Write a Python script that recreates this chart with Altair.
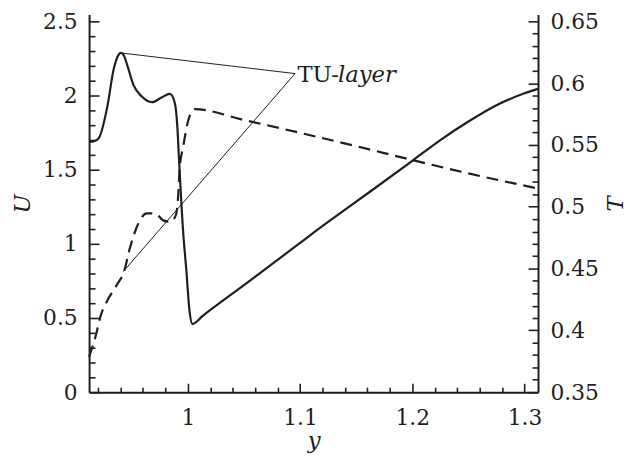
import altair as alt
import pandas as pd

# ---------------- data ----------------
# U (solid, left axis)
u_x = [0.912, 0.916, 0.9208, 0.928, 0.934, 0.937, 0.9405, 0.943, 0.946, 0.9516,
       0.959, 0.968, 0.9766, 0.984, 0.9884, 0.9907, 0.9922, 0.9957, 0.9986,
       1.0016, 1.004, 1.0133, 1.05, 1.1, 1.1129, 1.15, 1.2, 1.225, 1.25,
       1.275, 1.3, 1.312]
u_val = [1.687, 1.69, 1.715, 1.915, 2.18, 2.255, 2.287, 2.27, 2.205, 2.07,
         1.993, 1.955, 1.987, 2.011, 1.949, 1.782, 1.56, 1.093, 0.827,
         0.54, 0.46, 0.515, 0.722, 1.006, 1.08, 1.284, 1.56, 1.70, 1.825,
         1.935, 2.015, 2.045]

# T (dashed, right axis)
t_x = [0.912, 0.918, 0.9223, 0.9281, 0.937, 0.9428, 0.9487, 0.956, 0.9634,
       0.9708, 0.9781, 0.9845, 0.9893, 0.9913, 0.9928, 0.9957, 1.0001, 1.004,
       1.006, 1.05, 1.1, 1.15, 1.2, 1.25, 1.312]
t_val = [0.3786, 0.3958, 0.4118, 0.4238, 0.4372, 0.4466, 0.4678, 0.4866, 0.4946,
         0.4946, 0.489, 0.4878, 0.4932, 0.5078, 0.5318, 0.548, 0.569, 0.5778,
         0.579, 0.5702, 0.5598, 0.549, 0.5378, 0.527, 0.5148]

# annotation "TU-layer": leader lines (in U units) and label anchor
ann_x0 = [1.0955, 1.0955]
ann_y0 = [2.148, 2.148]
ann_x1 = [0.9405, 0.9424]
ann_y1 = [2.287, 0.813]
ann_label_x = [1.0976]
ann_label_y = [2.093]
ann_text_roman = ["TU-"]
ann_text_italic = ["layer"]

# axes
x_domain = [0.912, 1.312]
u_domain = [0, 2.5467]
t_domain = [0.35, 0.6556]
x_major = [1.0, 1.1, 1.2, 1.3]
x_minor = [0.92, 0.94, 0.96, 0.98, 1.02, 1.04, 1.06, 1.08, 1.12, 1.14, 1.16,
           1.18, 1.22, 1.24, 1.26, 1.28]
u_major = [0, 0.5, 1, 1.5, 2, 2.5]
u_minor = [0.1, 0.2, 0.3, 0.4, 0.6, 0.7, 0.8, 0.9, 1.1, 1.2, 1.3, 1.4, 1.6,
           1.7, 1.8, 1.9, 2.1, 2.2, 2.3, 2.4]
t_major = [0.35, 0.4, 0.45, 0.5, 0.55, 0.6, 0.65]
t_minor = [0.36, 0.37, 0.38, 0.39, 0.41, 0.42, 0.43, 0.44, 0.46, 0.47, 0.48,
           0.49, 0.51, 0.52, 0.53, 0.54, 0.56, 0.57, 0.58, 0.59, 0.61, 0.62,
           0.63, 0.64]

# ---------------- styling ----------------
W, H = 454, 382
INK = "#1e1e1e"
FONT = "DejaVu Serif"
FS = 22
FS_ANN = 23

dfU = pd.DataFrame({"x": u_x, "U": u_val})
dfT = pd.DataFrame({"x": t_x, "T": t_val})
dfA = pd.DataFrame({"x": ann_x0, "y": ann_y0, "x2": ann_x1, "y2": ann_y1})
dfL = pd.DataFrame({"x": ann_label_x, "y": ann_label_y,
                    "r": ann_text_roman, "i": ann_text_italic})

xs = alt.Scale(domain=x_domain, nice=False, zero=False)
us = alt.Scale(domain=u_domain, nice=False, zero=False)
ts = alt.Scale(domain=t_domain, nice=False, zero=False)


def tick_axis(values, size, orient, offset):
    return alt.Axis(values=values, orient=orient, offset=offset, tickSize=size,
                    tickWidth=1.6, tickColor=INK, ticks=True, labels=False,
                    domain=False, grid=False, title=None)


def label_axis(values, orient, title, pad, **kw):
    return alt.Axis(values=values, orient=orient, ticks=False, tickSize=0,
                    labels=True, labelPadding=pad, labelFont=FONT,
                    labelFontSize=FS, labelColor=INK, format="~g",
                    domain=True, domainColor=INK, domainWidth=2, grid=False,
                    title=title, titleFont=FONT, titleFontSize=FS_ANN,
                    titleFontStyle="italic", titleFontWeight="normal",
                    titleColor=INK, **kw)


# ---------- U group (left scale) ----------
u_line = alt.Chart(dfU).mark_line(
    color=INK, strokeWidth=2.2, interpolate="monotone", strokeJoin="round"
).encode(
    x=alt.X("x:Q", scale=xs,
            axis=label_axis(x_major, "bottom", "y", 16, titleBaseline="alphabetic",
                            titleX=W / 2, titleY=56, titleAngle=0)),
    y=alt.Y("U:Q", scale=us,
            axis=label_axis(u_major, "left", "U", 12, titleBaseline="alphabetic",
                            titleX=-60, titleY=H / 2, titleAngle=270)),
)

u_major_ticks = alt.Chart(dfU).mark_line(strokeOpacity=0).encode(
    x=alt.X("x:Q", scale=xs, axis=tick_axis(x_major, 9, "top", -H)),
    y=alt.Y("U:Q", scale=us, axis=tick_axis(u_major, 10, "right", -W)),
)
u_minor_ticks = alt.Chart(dfU).mark_line(strokeOpacity=0).encode(
    x=alt.X("x:Q", scale=xs, axis=tick_axis(x_minor, 5, "top", -H)),
    y=alt.Y("U:Q", scale=us, axis=tick_axis(u_minor, 6, "right", -W)),
)

ann_rules = alt.Chart(dfA).mark_rule(color=INK, strokeWidth=1).encode(
    x=alt.X("x:Q", scale=xs, axis=None),
    y=alt.Y("y:Q", scale=us, axis=None),
    x2="x2:Q",
    y2="y2:Q",
)
ann_roman = alt.Chart(dfL).mark_text(
    align="left", baseline="alphabetic", font=FONT, fontSize=FS_ANN, color=INK
).encode(
    x=alt.X("x:Q", scale=xs, axis=None),
    y=alt.Y("y:Q", scale=us, axis=None),
    text="r:N",
)
ann_italic = alt.Chart(dfL).mark_text(
    align="left", baseline="alphabetic", font=FONT, fontSize=FS_ANN, color=INK,
    fontStyle="italic", dx=41
).encode(
    x=alt.X("x:Q", scale=xs, axis=None),
    y=alt.Y("y:Q", scale=us, axis=None),
    text="i:N",
)

u_group = alt.layer(u_line, u_major_ticks, u_minor_ticks, ann_rules,
                    ann_roman, ann_italic).resolve_axis(x="independent",
                                                        y="independent")

# ---------- T group (right scale) ----------
t_line = alt.Chart(dfT).mark_line(
    color=INK, strokeWidth=2.2, strokeDash=[12, 7], interpolate="monotone",
    strokeJoin="round"
).encode(
    x=alt.X("x:Q", scale=xs, axis=None),
    y=alt.Y("T:Q", scale=ts,
            axis=label_axis(t_major, "right", "T", 12, titleBaseline="alphabetic",
                            titleX=85, titleY=H / 2, titleAngle=270)),
)
t_major_ticks = alt.Chart(dfT).mark_line(strokeOpacity=0).encode(
    x=alt.X("x:Q", scale=xs, axis=None),
    y=alt.Y("T:Q", scale=ts, axis=tick_axis(t_major, 10, "left", -W)),
)
t_minor_ticks = alt.Chart(dfT).mark_line(strokeOpacity=0).encode(
    x=alt.X("x:Q", scale=xs, axis=None),
    y=alt.Y("T:Q", scale=ts, axis=tick_axis(t_minor, 6, "left", -W)),
)

t_group = alt.layer(t_line, t_major_ticks, t_minor_ticks).resolve_axis(
    y="independent")

chart = alt.layer(u_group, t_group).resolve_scale(y="independent").resolve_axis(
    x="independent", y="independent"
).properties(
    width=W, height=H,
    padding={"left": 82, "top": 4, "right": 92, "bottom": 60},
    autosize=alt.AutoSizeParams(type="none"),
    background="white",
).configure_view(stroke="transparent")

chart.save("out.html", embed_options={"renderer": "svg", "actions": False})
